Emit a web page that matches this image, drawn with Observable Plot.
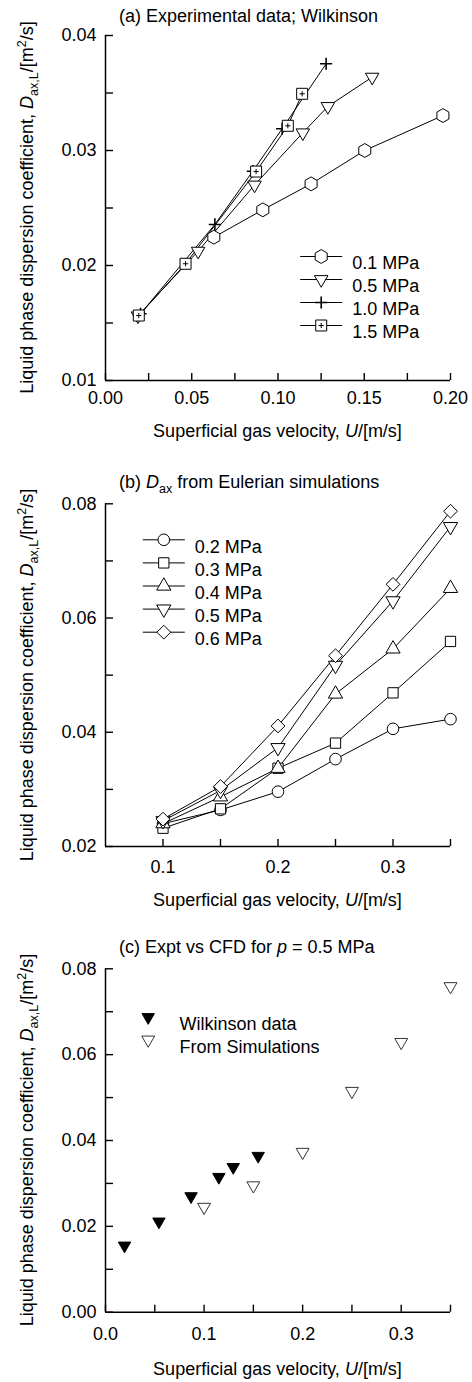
<!DOCTYPE html>
<html>
<head>
<meta charset="utf-8">
<script src="https://cdn.jsdelivr.net/npm/d3@7"></script>
<script src="https://cdn.jsdelivr.net/npm/@observablehq/plot@0.6"></script>
<style>
  html, body { margin: 0; padding: 0; background: #fff; }
  #root { position: relative; width: 472px; height: 1382px; overflow: hidden; background: #fff; }
  #root > svg, #root > figure { position: absolute; left: 0; margin: 0; }
</style>
</head>
<body>
<div id="root"></div>
<script>
// ---------------- DATA ----------------
// Panel (a): experimental data, Wilkinson
const aU_01 = [0.0628, 0.0912, 0.1192, 0.1503, 0.1956];
const aD_01 = [0.02246, 0.02484, 0.0271, 0.0300, 0.03304];
const aU_05 = [0.0188, 0.0537, 0.0864, 0.1144, 0.1289, 0.1546];
const aD_05 = [0.01562, 0.02125, 0.0270, 0.03154, 0.03383, 0.03638];
const aU_10 = [0.0203, 0.0634, 0.0854, 0.1024, 0.1279];
const aD_10 = [0.0158, 0.02357, 0.0282, 0.03189, 0.03754];
const aU_15 = [0.0193, 0.0464, 0.0873, 0.1057, 0.1140];
const aD_15 = [0.01565, 0.02015, 0.02817, 0.03215, 0.03493];
const aLegend = ["0.1 MPa", "0.5 MPa", "1.0 MPa", "1.5 MPa"];
const aXTicks = [0, 0.025, 0.05, 0.075, 0.1, 0.125, 0.15, 0.175, 0.2];
const aXLabels = [0, 0.05, 0.1, 0.15, 0.2];
const aYTicks = [0.01, 0.015, 0.02, 0.025, 0.03, 0.035, 0.04];
const aYLabels = [0.01, 0.02, 0.03, 0.04];

// Panel (b): Eulerian simulations
const bU = [0.10, 0.15, 0.20, 0.25, 0.30, 0.35];
const bD_02 = [0.0240, 0.0264, 0.0296, 0.0353, 0.0406, 0.0423];
const bD_03 = [0.0232, 0.0266, 0.0337, 0.0381, 0.0469, 0.0559];
const bD_04 = [0.0240, 0.0287, 0.0337, 0.0467, 0.0546, 0.0652];
const bD_05 = [0.0245, 0.0298, 0.0373, 0.0517, 0.0630, 0.0760];
const bD_06 = [0.0248, 0.0305, 0.0411, 0.0534, 0.0659, 0.0787];
const bLegend = ["0.2 MPa", "0.3 MPa", "0.4 MPa", "0.5 MPa", "0.6 MPa"];
const bXTicks = [0.1, 0.15, 0.2, 0.25, 0.3, 0.35];
const bXLabels = [0.1, 0.2, 0.3];
const bYTicks = [0.02, 0.03, 0.04, 0.05, 0.06, 0.07, 0.08];
const bYLabels = [0.02, 0.04, 0.06, 0.08];

// Panel (c): experiment vs CFD at p = 0.5 MPa
const cWU = [0.0193, 0.0542, 0.0868, 0.1150, 0.1296, 0.1549];
const cWD = [0.0155, 0.0211, 0.0270, 0.0315, 0.0338, 0.0364];
const cSU = [0.10, 0.15, 0.20, 0.25, 0.30, 0.35];
const cSD = [0.0245, 0.0295, 0.0373, 0.0515, 0.0629, 0.0759];
const cLegend = ["Wilkinson data", "From Simulations"];
const cXTicks = [0, 0.05, 0.1, 0.15, 0.2, 0.25, 0.3, 0.35];
const cXLabels = [0, 0.1, 0.2, 0.3];
const cYTicks = [0, 0.01, 0.02, 0.03, 0.04, 0.05, 0.06, 0.07, 0.08];
const cYLabels = [0, 0.02, 0.04, 0.06, 0.08];

// ---------------- HELPERS ----------------
const FONT = "'Liberation Sans', Arial, Helvetica, sans-serif";
const rows = (U, D) => U.map((u, i) => ({u, d: D[i]}));
const labeler = (labels, fmt) => v => labels.some(l => Math.abs(l - v) < 1e-9) ? fmt(v) : "";
const legendLine = { draw(ctx) { ctx.moveTo(-21, 0); ctx.lineTo(21, 0); } };

function panel(cfg) {
  const mb = cfg.height - cfg.mt - cfg.ph;
  return Plot.plot({
    width: 472,
    height: cfg.height,
    marginLeft: 105,
    marginRight: 22,
    marginTop: cfg.mt,
    marginBottom: mb,
    style: { fontFamily: FONT, fontSize: "18px", background: "transparent", color: "black", overflow: "visible" },
    x: { domain: cfg.xDomain },
    y: { domain: cfg.yDomain },
    marks: [
      Plot.axisX({ ticks: cfg.xTicks, tickSize: -7, tickPadding: 7 + cfg.xOff, tickFormat: labeler(cfg.xLabels, cfg.xFmt),
        stroke: "black", fill: "black", strokeWidth: 1.4, label: null, fontSize: 18 }),
      Plot.axisY({ ticks: cfg.yTicks, tickSize: -8, tickPadding: 17, tickFormat: labeler(cfg.yLabels, d3.format(".2f")),
        stroke: "black", fill: "black", strokeWidth: 1.4, label: null, fontSize: 18 }),
      Plot.ruleY([cfg.yDomain[0]], { stroke: "black", strokeWidth: 1.5 }),
      Plot.ruleX([cfg.xDomain[0]], { stroke: "black", strokeWidth: 1.5 }),
      ...cfg.marks
    ]
  });
}

function legend(items, o) {
  const marks = [];
  items.forEach((it, i) => {
    const dy = o.dy0 + i * o.step;
    if (o.line) marks.push(Plot.dot([it], { frameAnchor: "top-left", dx: o.dxSym, dy, symbol: legendLine, stroke: "black", strokeWidth: 1, fill: "none" }));
    marks.push(Plot.dot([it], { frameAnchor: "top-left", dx: o.dxSym, dy, symbol: it.symbol, r: it.r, rotate: it.rotate || 0,
      stroke: it.stroke || "black", fill: it.fill || "white", strokeWidth: it.sw || 1 }));
    if (it.inner) marks.push(Plot.dot([it], { frameAnchor: "top-left", dx: o.dxSym, dy, symbol: "plus", r: 1.8, stroke: "black", strokeWidth: 1 }));
    marks.push(Plot.text([it.label], { frameAnchor: "top-left", dx: o.dxText, dy, text: d => d, textAnchor: "start", fill: "black", fontSize: 18 }));
  });
  return marks;
}

const lineOpt = { x: "u", y: "d", stroke: "black", strokeWidth: 1 };
const root = document.getElementById("root");

// ---------------- PANEL A ----------------
const aSym = [
  { label: aLegend[0], symbol: "hexagon", r: 6 },
  { label: aLegend[1], symbol: "triangle", r: 5, rotate: 180 },
  { label: aLegend[2], symbol: "plus", r: 4, sw: 1.6, fill: "none" },
  { label: aLegend[3], symbol: "square", r: 6.2, inner: true }
];
const A = [rows(aU_01, aD_01), rows(aU_05, aD_05), rows(aU_10, aD_10), rows(aU_15, aD_15)];
const plotA = panel({
  height: 410, mt: 35, ph: 345, xOff: 11,
  xDomain: [0, 0.2], yDomain: [0.01, 0.04],
  xTicks: aXTicks, xLabels: aXLabels, xFmt: d3.format(".2f"),
  yTicks: aYTicks, yLabels: aYLabels,
  marks: [
    ...A.map(r => Plot.line(r, lineOpt)),
    ...A.map((r, k) => Plot.dot(r, { x: "u", y: "d", symbol: aSym[k].symbol, r: aSym[k].r, rotate: aSym[k].rotate || 0,
      stroke: "black", fill: aSym[k].fill || "white", strokeWidth: aSym[k].sw || 1 })),
    Plot.dot(A[3], { x: "u", y: "d", symbol: "plus", r: 1.8, stroke: "black", strokeWidth: 1 }),
    ...legend(aSym, { dxSym: 215.7, dxText: 246.7, dy0: 221, step: 23, line: true })
  ]
});
plotA.style.top = "0px";
root.appendChild(plotA);

// ---------------- PANEL B ----------------
const bSym = [
  { label: bLegend[0], symbol: "circle", r: 5.8 },
  { label: bLegend[1], symbol: "square", r: 5.8 },
  { label: bLegend[2], symbol: "triangle", r: 5.3 },
  { label: bLegend[3], symbol: "triangle", r: 5.3, rotate: 180 },
  { label: bLegend[4], symbol: "diamond2", r: 6.2 }
];
const B = [bD_02, bD_03, bD_04, bD_05, bD_06].map(D => rows(bU, D));
const plotB = panel({
  height: 436, mt: 63.3, ph: 342.7, xOff: 14,
  xDomain: [0.05, 0.35], yDomain: [0.02, 0.08],
  xTicks: bXTicks, xLabels: bXLabels, xFmt: d3.format(".1f"),
  yTicks: bYTicks, yLabels: bYLabels,
  marks: [
    ...B.map(r => Plot.line(r, lineOpt)),
    ...B.map((r, k) => Plot.dot(r, { x: "u", y: "d", symbol: bSym[k].symbol, r: bSym[k].r, rotate: bSym[k].rotate || 0,
      stroke: "black", fill: "white", strokeWidth: 1 })),
    ...legend(bSym, { dxSym: 58.3, dxText: 89.3, dy0: 36, step: 23.1, line: true })
  ]
});
plotB.style.top = "440px";
root.appendChild(plotB);

// ---------------- PANEL C ----------------
const cSym = [
  { label: cLegend[0], symbol: "triangle", r: 4.6, rotate: 180, fill: "black" },
  { label: cLegend[1], symbol: "triangle", r: 4.8, rotate: 180, stroke: "#333" }
];
const plotC = panel({
  height: 442, mt: 68.3, ph: 343.4, xOff: 15,
  xDomain: [0, 0.35], yDomain: [0, 0.08],
  xTicks: cXTicks, xLabels: cXLabels, xFmt: d3.format(".1f"),
  yTicks: cYTicks, yLabels: cYLabels,
  marks: [
    Plot.dot(rows(cSU, cSD), { x: "u", y: "d", symbol: "triangle", r: 4.8, rotate: 180, stroke: "#333", fill: "white", strokeWidth: 1 }),
    Plot.dot(rows(cWU, cWD), { x: "u", y: "d", symbol: "triangle", r: 4.6, rotate: 180, stroke: "black", fill: "black", strokeWidth: 1 }),
    ...legend(cSym, { dxSym: 42.7, dxText: 74, dy0: 48.4, step: 22.6, line: false })
  ]
});
plotC.style.top = "900px";
root.appendChild(plotC);

// ---------------- TEXT OVERLAY ----------------
const ov = d3.select(root).append("svg")
  .attr("width", 472).attr("height", 1382)
  .style("position", "absolute").style("left", 0).style("top", 0)
  .style("pointer-events", "none")
  .style("font-family", FONT).style("font-size", "18px");

function rich(parent, parts) {
  parts.forEach(p => {
    const t = parent.append("tspan").text(p.t);
    if (p.i) t.style("font-style", "italic");
    if (p.fs) t.style("font-size", p.fs + "px");
    if (p.dy) t.attr("dy", p.dy);
  });
}

// Titles
ov.append("text").attr("x", 119).attr("y", 22).text("(a) Experimental data; Wilkinson");
rich(ov.append("text").attr("x", 119).attr("y", 488), [
  { t: "(b) " }, { t: "D", i: true }, { t: "ax", fs: 12.5, dy: 5 }, { t: " from Eulerian simulations", dy: -5 }
]);
rich(ov.append("text").attr("x", 119).attr("y", 953), [
  { t: "(c) Expt vs CFD for " }, { t: "p", i: true }, { t: " = 0.5 MPa" }
]);

// X axis titles
[437, 906, 1375].forEach(y => {
  rich(ov.append("text").attr("x", 277.5).attr("y", y).attr("text-anchor", "middle"), [
    { t: "Superficial gas velocity, " }, { t: "U", i: true }, { t: "/[m/s]" }
  ]);
});

// Y axis titles
[207.5, 675, 1140].forEach(cy => {
  rich(ov.append("text").attr("text-anchor", "middle").attr("transform", `translate(33,${cy}) rotate(-90)`), [
    { t: "Liquid phase dispersion coefficient, " }, { t: "D", i: true }, { t: "ax,L", fs: 12.5, dy: 5 },
    { t: "/[m", dy: -5 }, { t: "2", fs: 12.5, dy: -7 }, { t: "/s]", dy: 7 }
  ]);
});
</script>
</body>
</html>
